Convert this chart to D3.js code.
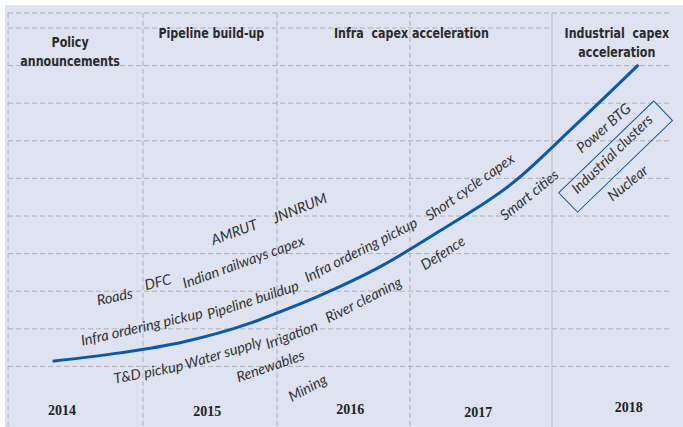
<!DOCTYPE html>
<html>
<head>
<meta charset="utf-8">
<script src="https://cdn.jsdelivr.net/npm/d3@7"></script>
<style>
  body { margin: 0; background: #fff; }
</style>
</head>
<body>
<svg id="chart" width="683" height="427"></svg>
<script>
// year ticks along the bottom
const years = ["2014", "2015", "2016", "2017", "2018"];
const yearSpots = [[2014.40, -1.16], [2015.48, -1.19], [2016.55, -1.13], [2017.48, -1.21], [2018.64, -1.08]];

// phase headings (one entry per heading, lines split)
const phases = [["Policy", "announcements"], ["Pipeline build-up"], ["Infra  capex acceleration"], ["Industrial  capex", "acceleration"]];
const phaseSpots = [[2014.46, 8.63], [2015.51, 8.87], [2017.01, 8.87], [2018.54, 8.87]];

// the capex curve (fractional year, level in grid units)
const curveDates = [2014.33, 2014.83, 2015.30, 2015.80, 2016.00, 2016.30, 2016.77, 2017.23, 2017.73, 2018.18, 2018.72];
const curveValues = [0.14, 0.36, 0.65, 1.15, 1.42, 1.85, 2.64, 3.65, 4.90, 6.37, 8.02];

// italic tags scattered round the curve
const tags = ["Roads", "DFC", "Indian railways capex", "AMRUT", "JNNRUM",
  "Infra ordering pickup", "Pipeline buildup", "Infra ordering pickup", "Short cycle capex",
  "T&D pickup", "Water supply", "Irrigation", "River cleaning", "Renewables", "Mining",
  "Defence", "Smart cities", "Power BTG", "Industrial clusters", "Nuclear"];
const tagSpots = [[2014.79, 1.85, -12], [2015.11, 2.24, -14], [2015.75, 2.78, -20], [2015.68, 3.57, -20], [2016.17, 4.21, -22],
  [2014.99, 1.05, -13], [2015.82, 1.77, -18], [2016.63, 3.10, -27], [2017.42, 4.77, -35],
  [2015.04, -0.15, -11], [2015.60, 0.36, -17], [2016.11, 0.84, -21], [2016.65, 1.77, -27], [2015.95, 0.01, -19], [2016.23, -0.57, -28],
  [2017.23, 3.02, -33], [2017.84, 4.56, -39], [2018.43, 6.34, -41], [2018.50, 5.65, -44], [2018.63, 4.88, -39]];

// box round "Industrial clusters"
const boxSpot = [2018.53, 5.58, -44];

const svg = d3.select("#chart");
const W = 683, H = 427;

svg.append("rect")
  .attr("x", 5).attr("y", 5)
  .attr("width", W - 5).attr("height", H - 5)
  .attr("fill", "#dee2f1");

const x = d3.scaleLinear()
  .domain([2014, 2015, 2016, 2017, 2018, 2019])
  .range([8, 143, 277, 410, 552, 672]);

const y = d3.scaleLinear()
  .domain([0, 9])
  .range([366.4, 28]);

const gridColor = "#b0b2bc";
const grid = svg.append("g");

// horizontal dashed lines
grid.selectAll("line.h")
  .data(d3.range(0, 10))
  .join("line")
  .attr("x1", x(2014))
  .attr("x2", d => d === 9 ? x(2018) : x(2019))
  .attr("y1", d => y(d)).attr("y2", d => y(d))
  .attr("stroke", gridColor)
  .attr("stroke-width", 1)
  .attr("stroke-dasharray", "5,3");

// top border
grid.append("line")
  .attr("x1", x(2014)).attr("x2", x(2019))
  .attr("y1", y(9.4)).attr("y2", y(9.4))
  .attr("stroke", gridColor)
  .attr("stroke-dasharray", "5,3");

// vertical dividers
grid.selectAll("line.v")
  .data([2014, 2015, 2016, 2017, 2018])
  .join("line")
  .attr("x1", d => x(d)).attr("x2", d => x(d))
  .attr("y1", y(9.4)).attr("y2", H)
  .attr("stroke", d => d === 2018 ? "#b9bbc4" : gridColor)
  .attr("stroke-width", 1)
  .attr("stroke-dasharray", d => d === 2018 ? null : "5,3");

// headings, squeezed to look condensed
const headFont = "'Liberation Sans Narrow', 'DejaVu Sans Condensed', 'Roboto Condensed', sans-serif";
phases.forEach((lines, i) => {
  const t = svg.append("text")
    .attr("transform", "translate(" + x(phaseSpots[i][0]) + "," + y(phaseSpots[i][1]) + ") scale(0.88,1)")
    .attr("text-anchor", "middle")
    .attr("font-family", headFont)
    .attr("font-weight", "bold")
    .attr("font-size", 14)
    .attr("fill", "#2b2b2b")
    .style("white-space", "pre");
  lines.forEach((ln, j) => {
    t.append("tspan")
      .attr("x", 0)
      .attr("dy", j === 0 ? "0.35em" : 19)
      .text(ln);
  });
});

// years
svg.selectAll("text.year")
  .data(years)
  .join("text")
  .attr("class", "year")
  .attr("x", (d, i) => x(yearSpots[i][0]))
  .attr("y", (d, i) => y(yearSpots[i][1]))
  .attr("dy", "0.35em")
  .attr("text-anchor", "middle")
  .attr("font-family", "'Liberation Serif', serif")
  .attr("font-weight", "bold")
  .attr("font-size", 14)
  .attr("fill", "#222")
  .text(d => d);

// curve
const line = d3.line()
  .x((d, i) => x(curveDates[i]))
  .y(d => y(d))
  .curve(d3.curveMonotoneX);

svg.append("path")
  .datum(curveValues)
  .attr("fill", "none")
  .attr("stroke", "#0b5aa8")
  .attr("stroke-width", 3)
  .attr("d", line);

// tags
svg.selectAll("text.tag")
  .data(tags)
  .join("text")
  .attr("class", "tag")
  .attr("transform", (d, i) => "translate(" + x(tagSpots[i][0]) + "," + y(tagSpots[i][1]) + ") rotate(" + tagSpots[i][2] + ")")
  .attr("dy", "0.35em")
  .attr("text-anchor", "middle")
  .attr("font-family", "Lato, 'Open Sans', sans-serif")
  .attr("font-style", "italic")
  .attr("font-size", 14.5)
  .attr("fill", "#333")
  .text(d => d);

// box
svg.append("rect")
  .attr("transform", "translate(" + x(boxSpot[0]) + "," + y(boxSpot[1]) + ") rotate(" + boxSpot[2] + ")")
  .attr("x", -66).attr("y", -13.5)
  .attr("width", 132).attr("height", 27)
  .attr("fill", "none")
  .attr("stroke", "#0b5aa8")
  .attr("stroke-width", 1);
</script>
</body>
</html>
